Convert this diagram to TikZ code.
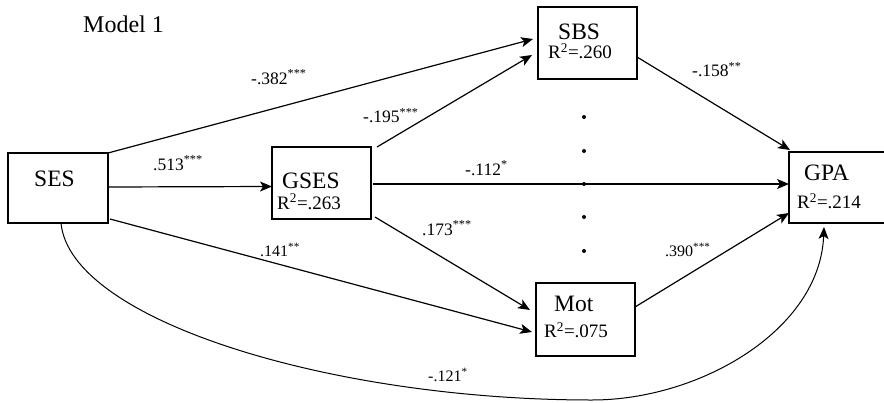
\documentclass[tikz,border=0pt]{standalone}
\usepackage{fontspec}
\setmainfont{Liberation Serif}
\usetikzlibrary{arrows.meta,calc}
\begin{document}
\begin{tikzpicture}[x=1pt,y=-1pt,
  box/.style={draw,line width=1.8pt,inner sep=0pt,outer sep=0pt},
  arr/.style={-{Stealth[length=12pt,width=10pt,inset=3pt]},line width=1.2pt},
  txt/.style={inner sep=0pt,anchor=base west,text height=0.7em,text depth=0pt},
  vname/.style={txt,font=\fontsize{23.5}{26}\selectfont},
  rsq/.style={txt,font=\fontsize{19}{22}\selectfont},
  coef/.style={txt,font=\fontsize{17.5}{20}\selectfont},
  coefs/.style={txt,font=\fontsize{16}{18}\selectfont},
  dotm/.style={circle,fill,inner sep=0pt,minimum size=4pt}]
\useasboundingbox (0,0) rectangle (884,402);
\clip (0,0) rectangle (884,402);
\fill[white] (0,0) rectangle (884,402);

% boxes
\node[box,minimum width=100pt,minimum height=70pt] (ses) at (58,188) {};
\node[box,minimum width=99pt,minimum height=72pt] (gses) at (321.5,183) {};
\node[box,minimum width=99pt,minimum height=72pt] (sbs) at (587.5,43) {};
\node[box,minimum width=99pt,minimum height=73pt] (mot) at (585.5,319.5) {};
\node[box,minimum width=116pt,minimum height=71pt] (gpa) at (847,187.5) {};

% box texts
\node[txt,font=\fontsize{24}{26}\selectfont] (title) at (83,32.3) {Model 1};
\node[vname] (sesT) at (34,186.7) {SES};
\node[vname] (gsesT) at (282,188) {GSES};
\node[rsq] (gsesR) at (277,209) {R\textsuperscript{2}=.263};
\node[vname] (sbsT) at (558,39) {SBS};
\node[rsq] (sbsR) at (548,58.5) {R\textsuperscript{2}=.260};
\node[vname] (gpaT) at (804,180.7) {GPA};
\node[rsq] (gpaR) at (797,208.3) {R\textsuperscript{2}=.214};
\node[vname] (motT) at (554,311) {Mot};
\node[rsq] (motR) at (544,337.3) {R\textsuperscript{2}=.075};

% dots
\foreach \yy/\nm in {117/d1,151/d2,184/d3,217/d4,251/d5}
  \node[dotm] (\nm) at (584,\yy) {};

% connectors
\draw[arr] (ses.north east) -- ($(sbs.west)+(-5,-4)$);
\draw[arr] ($(gses.north east)+(6,0)$) -- ($(sbs.west)+(-6,12)$);
\draw[arr] ($(ses.east)+(0,-1)$) -- ($(gses.west)+(0,3.5)$);
\draw[arr] ($(gses.east)+(2,1)$) -- ($(gpa.west)+(0,-3.5)$);
\draw[arr] ($(sbs.east)+(0,14)$) -- ($(gpa.north west)+(1,-2)$);
\draw[arr] ($(gses.south east)+(4,-2)$) -- ($(mot.west)+(-6,-9.5)$);
\draw[arr] ($(ses.south east)+(2,-4)$) -- ($(mot.west)+(-4,12.5)$);
\draw[arr] ($(mot.east)+(0,-12.5)$) -- ($(gpa.south west)+(0,-10)$);
\draw[arr,line width=1pt] ($(ses.south)+(3,0)$) .. controls (70,320) and (330,400) .. (592,400)
   .. controls (700,400) and (820,330) .. ($(gpa.south west)+(35,4)$);

% coefficients
\node[coef] (c1) at (251,84) {-.382\textsuperscript{***}};
\node[coef] (c2) at (153,170) {.513\textsuperscript{***}};
\node[coef] (c3) at (363,122.7) {-.195\textsuperscript{***}};
\node[coef] (c4) at (465,175) {-.112\textsuperscript{*}};
\node[coef] (c5) at (692,76.7) {-.158\textsuperscript{**}};
\node[coef] (c6) at (422,235) {.173\textsuperscript{***}};
\node[coefs] (c7) at (260,256.7) {.141\textsuperscript{**}};
\node[coefs] (c8) at (665,256.7) {.390\textsuperscript{***}};
\node[coefs] (c9) at (428,381.7) {-.121\textsuperscript{*}};
\end{tikzpicture}
\end{document}
